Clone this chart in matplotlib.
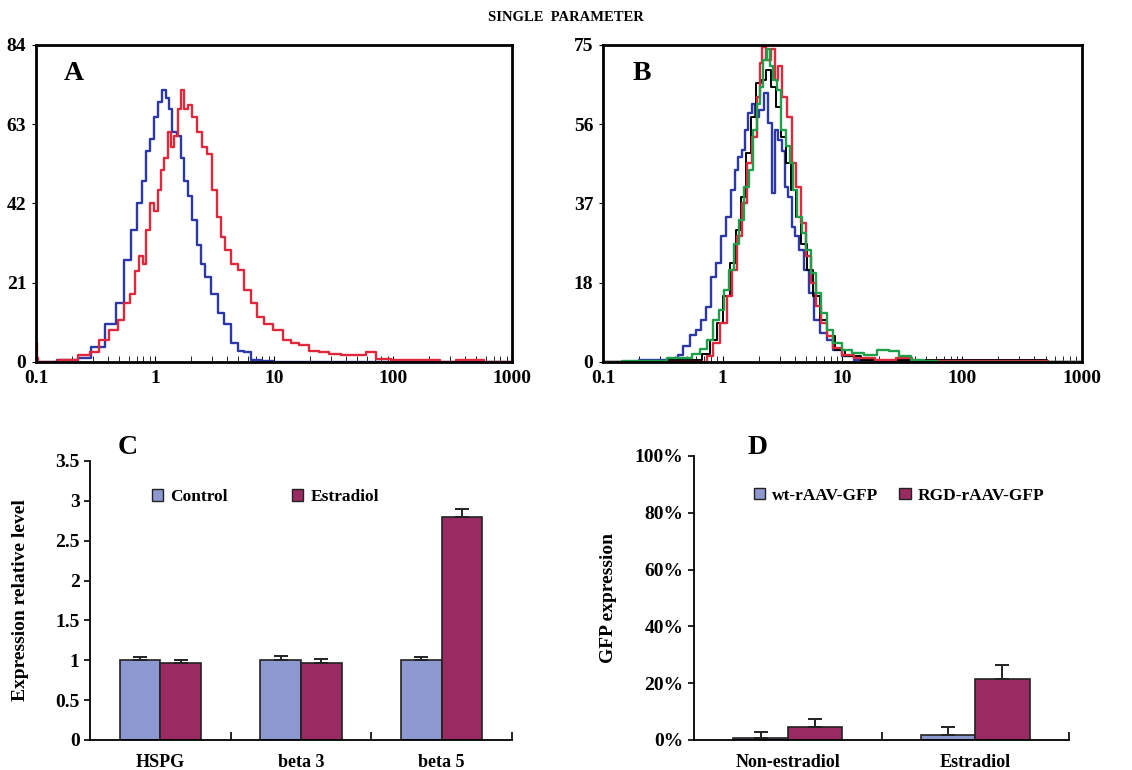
import numpy as np
import matplotlib
matplotlib.use("Agg")
import matplotlib.pyplot as plt
from matplotlib.patches import Patch
from matplotlib.ticker import FixedLocator, FuncFormatter, LogLocator, NullFormatter

plt.rcParams['font.family'] = ['Liberation Serif', 'DejaVu Serif']
plt.rcParams['font.weight'] = 'bold'

# ---- panel A: single parameter histograms (fluorescence, counts)
a_blue_x = [0.1, 0.2, 0.247, 0.329, 0.425, 0.516, 0.587, 0.668, 0.736, 0.811, 0.865, 0.953,
            1.016, 1.084, 1.194, 1.273, 1.358, 1.448, 1.596, 1.702, 1.815, 2.0, 2.13, 2.35,
            2.51, 2.76, 3.14, 3.57, 4.06, 4.62, 5.25, 5.97, 6.8, 8.8, 10.7, 1000]
a_blue_y = [0, 0.5, 1, 4, 10, 15.5, 27, 35, 42, 48, 56, 59,
            65, 69, 72, 70, 67, 61, 60, 54, 48, 44, 37.6, 31,
            26, 22.5, 18, 13, 10, 5, 3, 2.7, 0.5, 0.2, 0, 0]
a_red_x = [0.1, 0.102, 0.105, 0.2, 0.255, 0.309, 0.374, 0.454, 0.516, 0.587, 0.647, 0.713,
           0.760, 0.811, 0.865, 0.953, 1.016, 1.084, 1.156, 1.233, 1.315, 1.402, 1.496, 1.596,
           1.702, 1.815, 1.936, 2.13, 2.35, 2.59, 2.85, 3.14, 3.45, 3.68, 4.06, 4.62,
           5.25, 5.97, 6.8, 7.73, 8.8, 10.7, 12.9, 14.7, 17.9, 21.7, 26.3, 31.9,
           41.2, 53.3, 64.7, 78.5, 115.6, 193.6, 304, 368, 798, 1000]
a_red_y = [5, 1, 0, 0.4, 1.8, 2.7, 5.7, 8.4, 11, 15.5, 18, 24,
           28, 26, 35, 42, 40, 45.5, 51, 54, 61, 57, 60, 67,
           72, 67, 68, 65, 61, 57, 55, 45.5, 38.5, 33, 29.6, 26,
           24.3, 19, 15.5, 12, 10, 8.4, 5.7, 5, 4.4, 3, 2.7, 2.2,
           1.8, 1.8, 2.7, 0.9, 0.4, 0.4, 0, 0.4, 0, 0]

# ---- panel B
b_blue_x = [0.1, 0.298, 0.410, 0.437, 0.498, 0.566, 0.622, 0.686, 0.755, 0.832, 0.916, 1.008,
            1.110, 1.222, 1.303, 1.390, 1.482, 1.580, 1.684, 1.796, 1.915, 2.108, 2.321, 2.475,
            2.640, 2.814, 3.001, 3.200, 3.412, 3.638, 3.879, 4.136, 4.553, 5.013, 5.519, 6.077,
            6.910, 7.852, 8.93, 10.8, 14.0, 23.4, 1000]
b_blue_y = [0, 0.5, 0.5, 1.7, 3.7, 6.5, 7.6, 10, 13, 20, 23.4, 29.7,
            34.4, 40.7, 45.5, 48.6, 50.2, 55, 59, 61, 58, 59.6, 63.6, 56.5,
            40, 55, 52.6, 50, 41.5, 39, 32, 29.7, 26.6, 21.8, 16.3, 10,
            6.8, 5.3, 2.9, 1.3, 0.5, 0.2, 0]
b_black_x = [0.1, 0.603, 0.731, 0.832, 0.946, 1.075, 1.222, 1.346, 1.482, 1.632, 1.796, 1.977,
             2.177, 2.397, 2.640, 2.906, 3.200, 3.523, 3.879, 4.270, 4.701, 5.345, 6.077, 6.910,
             7.852, 9.52, 11.6, 17.0, 1000]
b_black_y = [0, 0.5, 2, 5.3, 9.2, 15.5, 23.4, 31.3, 39, 49.4, 58, 66,
             66.7, 69, 65, 60.4, 53.3, 47, 40.7, 34.4, 28, 21.8, 15.5, 10,
             6.1, 2.9, 1.3, 0.5, 0]
b_red_x = [0.1, 0.686, 0.780, 0.887, 1.008, 1.146, 1.262, 1.390, 1.530, 1.684, 1.855, 1.977,
           2.108, 2.177, 2.397, 2.640, 2.814, 3.001, 3.304, 3.638, 3.879, 4.270, 4.701, 5.176,
           5.699, 6.275, 6.910, 7.852, 8.93, 10.8, 14.0, 23.4, 32.3, 44.5, 1000]
b_red_y = [0, 0, 1.3, 4.5, 9.2, 15.5, 21.8, 29.7, 37.6, 47, 53.3, 62.8,
           70.7, 74.6, 71.5, 74, 66.7, 70, 62.8, 58, 47, 41.5, 32.9, 25,
           18.7, 13.2, 9.2, 6.1, 3.3, 1.7, 0.9, 0.5, 0.9, 0.2, 0]
b_green_x = [0.1, 0.190, 0.498, 0.603, 0.686, 0.780, 0.887, 0.977, 1.075, 1.183, 1.303, 1.435,
             1.580, 1.739, 1.855, 1.977, 2.108, 2.248, 2.397, 2.556, 2.726, 2.906, 3.200, 3.523,
             3.756, 4.005, 4.409, 4.701, 5.176, 5.699, 6.275, 6.910, 7.852, 8.93, 10.8, 13.1,
             17.0, 21.9, 26.6, 32.3, 41.7, 54.0, 69.7, 1000]
b_green_y = [0, 0.3, 1, 2, 3, 5.3, 10, 12.4, 17, 21.8, 28, 33.6,
             41.5, 45.5, 55, 61, 65, 71.5, 74, 70, 66.7, 64.4, 55, 51,
             47, 40.7, 34.4, 30.5, 26.6, 21, 16.3, 11.6, 7.6, 4.5, 2.9, 2.1,
             1.7, 2.9, 2.5, 1.3, 0.5, 0.3, 0, 0]

# ---- panel C
c_genes = ["HSPG", "beta 3", "beta 5"]
c_control = [1.0, 1.0, 1.0]
c_control_err = [0.04, 0.055, 0.04]
c_estradiol = [0.96, 0.96, 2.8]
c_estradiol_err = [0.04, 0.055, 0.1]

# ---- panel D
d_groups = ["Non-estradiol", "Estradiol"]
d_wt = [0.6, 1.8]
d_wt_err = [2.3, 2.9]
d_rgd = [4.7, 21.4]
d_rgd_err = [2.8, 4.9]

BLUE = "#2c38a6"
RED = "#e0283c"
GREEN = "#1ea04a"
CTRL = "#8c98cf"
ESTR = "#9a2a62"

fig = plt.figure(figsize=(11.32, 7.7), dpi=100)
fig.text(0.5, 0.977, "SINGLE  PARAMETER", ha="center", va="center", fontsize=10.5, fontweight="bold")


def hist_axes(rect, ymax, yticks, ylabels, letter):
    ax = fig.add_axes(rect)
    ax.set_xscale("log")
    ax.set_xlim(0.1, 1000)
    ax.set_ylim(0, ymax)
    ax.set_yticks(yticks)
    ax.set_yticklabels(ylabels)
    ax.set_xticks([0.1, 1, 10, 100, 1000])
    ax.set_xticklabels(["0.1", "1", "10", "100", "1000"])
    ax.xaxis.set_minor_locator(LogLocator(base=10, subs=np.arange(2, 10)))
    ax.xaxis.set_minor_formatter(NullFormatter())
    ax.tick_params(axis="x", which="both", direction="in", length=4, labelsize=14, pad=6)
    ax.tick_params(axis="y", direction="out", length=3, labelsize=14, pad=4)
    for s in ax.spines.values():
        s.set_linewidth(2)
    ax.text(0.08, 0.91, letter, transform=ax.transAxes, fontsize=20, fontweight="bold",
            ha="center", va="center")
    return ax


axA = hist_axes([0.0318, 0.5299, 0.4205, 0.4117], 84, [0, 21, 42, 63, 84],
                ["0", "21", "42", "63", "84"], "A")
axA.plot(a_blue_x, a_blue_y, drawstyle="steps-mid", color=BLUE, lw=1.7)
axA.plot(a_red_x, a_red_y, drawstyle="steps-mid", color=RED, lw=1.7)

axB = hist_axes([0.5327, 0.5299, 0.4231, 0.4117], 75, [0, 18.75, 37.5, 56.25, 75],
                ["0", "18", "37", "56", "75"], "B")
axB.plot(b_blue_x, b_blue_y, drawstyle="steps-mid", color=BLUE, lw=1.7)
axB.plot(b_black_x, b_black_y, drawstyle="steps-mid", color="black", lw=1.4)
axB.plot(b_red_x, b_red_y, drawstyle="steps-mid", color=RED, lw=1.7)
axB.plot(b_green_x, b_green_y, drawstyle="steps-mid", color=GREEN, lw=1.7)


def bar_axes(rect, labels, s1, e1, s2, e2, w):
    ax = fig.add_axes(rect)
    x = np.arange(len(labels))
    ax.bar(x - w / 2, s1, w, color=CTRL, edgecolor="#222222", lw=1.2)
    ax.bar(x + w / 2, s2, w, color=ESTR, edgecolor="#222222", lw=1.2)
    ax.errorbar(x - w / 2, s1, yerr=[np.zeros(len(s1)), e1], fmt="none",
                ecolor="#222222", elinewidth=1.4, capsize=5, capthick=1.4)
    ax.errorbar(x + w / 2, s2, yerr=[np.zeros(len(s2)), e2], fmt="none",
                ecolor="#222222", elinewidth=1.4, capsize=5, capthick=1.4)
    ax.set_xlim(-0.5, len(labels) - 0.5)
    ax.set_xticks(x)
    ax.set_xticklabels(labels)
    ax.xaxis.set_minor_locator(FixedLocator(x + 0.5))
    ax.tick_params(axis="x", which="major", length=0, labelsize=13, pad=10)
    ax.tick_params(axis="x", which="minor", direction="in", length=6, width=1.2)
    ax.tick_params(axis="y", direction="out", length=4, width=1.2, labelsize=14)
    ax.spines["top"].set_visible(False)
    ax.spines["right"].set_visible(False)
    ax.spines["left"].set_linewidth(1.3)
    ax.spines["bottom"].set_linewidth(1.3)
    return ax


axC = bar_axes([0.0795, 0.039, 0.3728, 0.3623], c_genes, c_control, c_control_err,
               c_estradiol, c_estradiol_err, 0.29)
axC.set_ylim(0, 3.5)
axC.set_yticks([0, 0.5, 1, 1.5, 2, 2.5, 3, 3.5])
axC.set_yticklabels(["0", "0.5", "1", "1.5", "2", "2.5", "3", "3.5"])
axC.set_ylabel("Expression relative level", fontsize=14, fontweight="bold", labelpad=19)
axC.text(0.09, 1.05, "C", transform=axC.transAxes, fontsize=20, fontweight="bold",
         ha="center", va="center")
hC = [Patch(facecolor=CTRL, edgecolor="#222222"), Patch(facecolor=ESTR, edgecolor="#222222")]
axC.legend(hC, ["Control", "Estradiol"], ncol=2, frameon=False, fontsize=12.5,
           loc="center left", bbox_to_anchor=(0.11, 0.87), handlelength=0.65,
           handleheight=0.65, handletextpad=0.4, columnspacing=3.7)

axD = bar_axes([0.6131, 0.039, 0.3313, 0.3688], d_groups, d_wt, d_wt_err,
               d_rgd, d_rgd_err, 0.29)
axD.set_ylim(0, 100)
axD.set_yticks([0, 20, 40, 60, 80, 100])
axD.yaxis.set_major_formatter(FuncFormatter(lambda v, p: "%d%%" % v))
axD.set_ylabel("GFP expression", fontsize=14, fontweight="bold", labelpad=13)
axD.text(0.17, 1.03, "D", transform=axD.transAxes, fontsize=20, fontweight="bold",
         ha="center", va="center")
axD.legend(hC, ["wt-rAAV-GFP", "RGD-rAAV-GFP"], ncol=2, frameon=False, fontsize=12.5,
           loc="center left", bbox_to_anchor=(0.118, 0.86), handlelength=0.65,
           handleheight=0.65, handletextpad=0.4, columnspacing=1.2)

fig.savefig("out.png", dpi=100)
